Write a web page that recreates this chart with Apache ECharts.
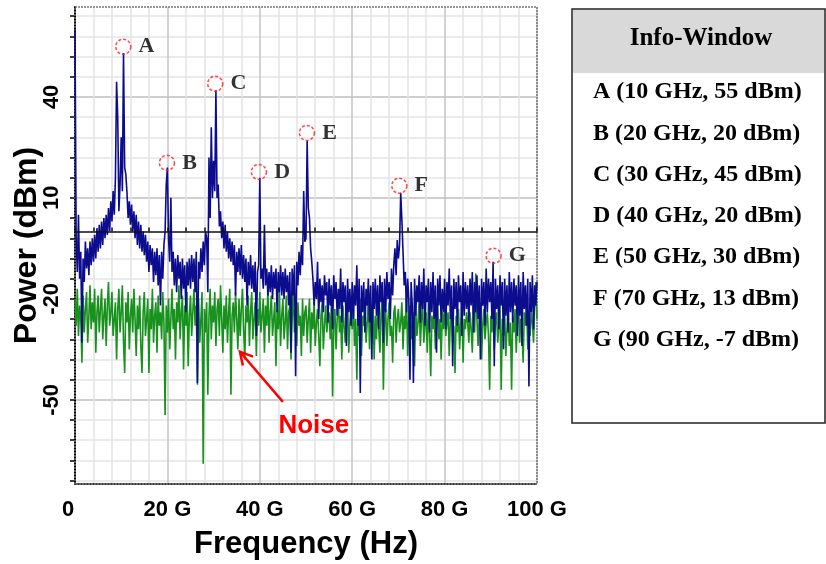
<!DOCTYPE html>
<html>
<head>
<meta charset="utf-8">
<script src="https://cdn.jsdelivr.net/npm/echarts@6/dist/echarts.min.js"></script>
<style>
html, body { margin: 0; padding: 0; background: #fff; }
#chart { width: 826px; height: 564px; }
</style>
</head>
<body>
<div id="chart"></div>
<script>
// spectrum samples, one every 0.25 GHz from 0 to 100 GHz (dBm)
const freqStep = 0.25;
const signal = [
  60, -2, -12, 5, -14, -6, -33, -8, -15, -3, -11, -5, -13, -3, -10, -2, -9, -1, -8, 1,
  -6, 2, -5, 3, -4, 4, -2, 5, -1, 7, 0, 9, 3, 12, 5, 16, 44.5, 34, 6, 14,
  28, 12, 53, 19, 17, 11.5, 4, 9, 2, 8, 0, 6, -2, 5, -4, 3, -5, 2, -6, 0,
  -7, -1, -9, -3, -12, -4, -10, -5, -15, -6, -13, -5, -16, -7, -22, -6, -14, -4, 0, 14,
  19, -2, -9, 10, -12, -6, -16, -8, -18, -7, -14, -9, -20, -8, -17, -10, -24, -9, -16, -8,
  -17, -7, -15, -8, -18, -6, -45, -9, -14, -5, -12, -3, -10, 0, -2, -18, 22, 4, 31, 10,
  21, 12, 42, 10, 14, 1.5, 6, -2, 3, -5, 2, -6, 0, -8, -2, -9, -3, -10, -4, -19,
  -6, -12, -5, -13, -4, -14, -7, -15, -8, -22, -9, -16, -7, -17, -10, -18, -9, -31, -12, -10,
  16, -14, -11, -17, 2, -16, -11, -19, -12, -18, -10, -20, -12, -17, -11, -24, -12, -18, -10, -19,
  -12, -20, -11, -18, -13, -22, -12, -36, -11, -19, -10, -43, -9, -16, -6, -13, -4, -10, 12, -3,
  -2, 27, 7, 4, -5, -9, -14, -22, -15, -20, -9, -26, -14, -21, -16, -24, -13, -19, -15, -27,
  -14, -22, -16, -29, -13, -20, -15, -25, -17, -23, -11, -27, -15, -21, -16, -34, -14, -24, -17, -28,
  -15, -26, -16, -22, -10, -28, -14, -48, -16, -24, -15, -30, -17, -22, -14, -27, -16, -38, -15, -23,
  -14, -25, -16, -29, -13, -21, -15, -33, -14, -24, -12, -20, -15, -26, -11, -19, -10, -5, -13, -2.5,
  -8, -4, 11.5, 3.5, -6, -16, -12, -24, -14, -20, -44, -15, -22, -45, -14, -25, -16, -21, -13, -27,
  -15, -23, -11, -28, -16, -21, -14, -30, -15, -24, -12, -26, -16, -36, -14, -22, -13, -27, -17, -24,
  -14, -29, -15, -22, -11, -26, -16, -40, -14, -23, -15, -28, -13, -21, -16, -31, -12, -25, -15, -23,
  -16, -27, -14, -22, -12, -30, -15, -24, -13, -26, -16, -38, -14, -22, -15, -28, -11, -24, -14, -21,
  -15, -26, -9, -40, -14, -23, -16, -29, -13, -22, -15, -35, -14, -25, -16, -30, -12, -24, -15, -27,
  -14, -22, -16, -31, -13, -25, -15, -34, -12, -23, -16, -28, -14, -46, -15, -24, -13, -29, -16, -22,
  -15
];
const noise = [
  -20, -28, -17, -31, -22, -26, -39, -19, -30, -23, -18, -33, -25, -16, -29, -21, -27, -17, -36, -24,
  -19, -30, -23, -17, -32, -25, -20, -34, -22, -15, -28, -24, -18, -31, -26, -21, -38, -23, -17, -30,
  -24, -16, -33, -42, -21, -27, -18, -35, -25, -20, -30, -17, -26, -37, -22, -29, -19, -34, -42, -24,
  -18, -31, -26, -20, -42, -23, -29, -17, -33, -25, -21, -36, -19, -28, -24, -32, -18, -27, -54.5, -22,
  -30, -20, -35, -26, -17, -29, -23, -38, -21, -27, -16, -32, -24, -19, -41, -22, -28, -18, -40, -25,
  -19, -31, -24, -17, -28, -22, -45.5, -20, -33, -26, -18, -69, -23, -30, -21, -48.5, -25, -17, -32, -22,
  -27, -18, -34, -23, -20, -31, -16, -26, -36, -22, -29, -19, -33, -24, -17, -48.5, -25, -21, -30, -18,
  -26, -35, -20, -31, -23, -17, -29, -38, -22, -27, -19, -34, -24, -18, -32, -26, -21, -37, -23, -28,
  -18, -30, -25, -20, -36, -22, -28, -17, -33, -24, -19, -31, -26, -21, -40, -23, -29, -18, -34, -25,
  -20, -32, -27, -19, -35, -24, -22, -38, -26, -18, -30, -23, -34, -21, -28, -25, -37, -20, -31, -24,
  -22, -33, -26, -20, -36, -24, -29, -21, -34, -27, -23, -31, -40, -25, -21, -35, -28, -22, -30, -26,
  -24, -32, -21, -49, -27, -23, -35, -26, -20, -30, -25, -38, -22, -28, -33, -24, -19, -36, -27, -23,
  -29, -21, -34, -26, -44, -23, -31, -20, -37, -25, -28, -22, -33, -27, -19, -35, -24, -30, -21, -38,
  -25, -32, -22, -29, -36, -24, -20, -47, -27, -23, -34, -26, -21, -31, -28, -39, -24, -22, -33, -26,
  -23, -30, -27, -21, -35, -25, -29, -18, -37, -26, -22, -32, -28, -24, -40, -23, -31, -27, -20, -34,
  -26, -22, -33, -28, -24, -36, -21, -30, -43, -25, -29, -23, -35, -27, -20, -32, -26, -38, -24, -29,
  -22, -31, -27, -24, -37, -26, -20, -33, -28, -42, -25, -30, -23, -35, -27, -21, -39, -26, -29, -24,
  -27, -33, -24, -29, -36, -22, -30, -12.5, -26, -34, -25, -21, -38, -28, -23, -32, -27, -24, -31, -47,
  -25, -30, -22, -35, -27, -24, -33, -28, -21, -47, -26, -31, -24, -37, -29, -22, -34, -27, -47, -25,
  -30, -23, -36, -27, -21, -33, -26, -29, -39, -24, -28, -22, -35, -26, -31, -24, -27, -33, -22, -15,
  -26
];

// marked peaks
const peakNames = ['A', 'B', 'C', 'D', 'E', 'F', 'G'];
const peakFreq = [10.45, 19.9, 30.35, 39.8, 50.2, 70.2, 90.6];
const peakPower = [54.9, 20.4, 43.9, 17.7, 29.3, 13.6, -7.2];

const infoTitle = 'Info-Window';
const infoLines = [
  'A (10 GHz, 55 dBm)',
  'B (20 GHz, 20 dBm)',
  'C (30 GHz, 45 dBm)',
  'D (40 GHz, 20 dBm)',
  'E (50 GHz, 30 dBm)',
  'F (70 GHz, 13 dBm)',
  'G (90 GHz, -7 dBm)'
];

// axis ticks
const yLabelValues = [40, 10, -20, -50];
const yTickValues = [64, 58, 52, 46, 40, 34, 28, 22, 16, 10, 4, -2, -8, -14, -20, -26, -32, -38, -44, -50, -56, -62, -68, -74];

const sans = 'Arial, "Liberation Sans", sans-serif';
const serif = '"Times New Roman", "Liberation Serif", serif';

const chart = echarts.init(document.getElementById('chart'));

const signalData = signal.map((v, i) => [i * freqStep, v]);
const noiseData = noise.map((v, i) => [i * freqStep, v]);
const peakData = peakFreq.map((f, i) => [f, peakPower[i]]);

const tickFont = { color: '#000', fontFamily: sans, fontWeight: 'bold', fontSize: 22 };

chart.setOption({
  animation: false,
  textStyle: { fontFamily: sans },
  grid: { left: 75, right: 289, top: 7, bottom: 80, containLabel: false, outerBoundsMode: 'none' },
  xAxis: [
    {
      type: 'value', min: 0, max: 100, interval: 20, position: 'bottom',
      axisLine: { onZero: false, lineStyle: { color: '#333', width: 2, type: [1, 1] } },
      axisTick: { show: false },
      minorTick: { show: false, splitNumber: 5 },
      axisLabel: Object.assign({}, tickFont, {
        margin: 15,
        formatter: v => (v === 0 ? '{z|0}' : v + ' G'),
        rich: { z: Object.assign({}, tickFont, { padding: [0, 14, 0, 0] }) }
      }),
      splitLine: { lineStyle: { color: '#c4c4c4', width: 1.5 } },
      minorSplitLine: { show: true, lineStyle: { color: '#e4e4e4', width: 1.5 } },
      name: 'Frequency (Hz)', nameLocation: 'middle', nameGap: 45, nameMoveOverlap: false,
      nameTextStyle: { color: '#000', fontFamily: sans, fontWeight: 'bold', fontSize: 31 }
    },
    {
      type: 'value', min: 0, max: 100, interval: 4, position: 'top', z: 5,
      axisLine: { onZero: true, lineStyle: { color: '#111', width: 1.5 } },
      axisTick: { show: true, length: 4, lineStyle: { color: '#111', width: 1.5 } },
      axisLabel: { show: false },
      splitLine: { show: false }
    }
  ],
  yAxis: [
    {
      type: 'value', min: -75, max: 66.7, position: 'left',
      axisLine: { show: true, onZero: false, lineStyle: { color: '#000', width: 2 } },
      axisTick: { show: true, length: 5, customValues: yTickValues, lineStyle: { color: '#000', width: 1.5 } },
      axisLabel: Object.assign({}, tickFont, { customValues: yLabelValues, rotate: 90, margin: 12 }),
      splitLine: { show: true, lineStyle: { color: '#e4e4e4', width: 1.5 } },
      name: 'Power (dBm)', nameLocation: 'middle', nameGap: 32, nameMoveOverlap: false,
      nameTextStyle: { color: '#000', fontFamily: sans, fontWeight: 'bold', fontSize: 32 }
    },
    {
      type: 'value', min: -75, max: 66.7, position: 'right',
      axisLine: { show: false, onZero: false },
      axisTick: { show: false, customValues: yLabelValues },
      axisLabel: { show: false },
      splitLine: { show: true, lineStyle: { color: '#c4c4c4', width: 1.5 } }
    }
  ],
  series: [
    {
      name: 'Noise', type: 'line', data: noiseData, showSymbol: false, z: 2,
      lineStyle: { color: '#17921c', width: 1.6 }
    },
    {
      name: 'Signal', type: 'line', data: signalData, showSymbol: false, z: 3,
      lineStyle: { color: '#0c0c8f', width: 1.6 }
    },
    {
      name: 'Peaks', type: 'scatter', data: peakData, symbol: 'circle', symbolSize: 15, z: 4,
      itemStyle: { color: 'rgba(255,255,255,0)', borderColor: '#ff1a1a', borderWidth: 1.5, borderType: [3, 2] },
      label: {
        show: true, position: 'right', distance: 7,
        formatter: p => peakNames[p.dataIndex],
        color: '#000', fontFamily: serif, fontWeight: 'bold', fontSize: 22
      }
    }
  ]
});

// annotations: info window, noise arrow, dotted frame
const px = (x, y) => chart.convertToPixel({ xAxisIndex: 0, yAxisIndex: 0 }, [x, y]);
const tip = px(35.7, -35.7);
const tail = px(45, -50.6);
const noisePos = px(51.7, -57.7);
const topLeft = px(0, 66.7);
const bottomRight = px(100, -75);
const dx = tip[0] - tail[0], dy = tip[1] - tail[1];
const len = Math.sqrt(dx * dx + dy * dy);
const ux = dx / len, uy = dy / len;
const headLen = 14, ang = 0.5;
const head1 = [tip[0] - headLen * (ux * Math.cos(ang) - uy * Math.sin(ang)), tip[1] - headLen * (uy * Math.cos(ang) + ux * Math.sin(ang))];
const head2 = [tip[0] - headLen * (ux * Math.cos(ang) + uy * Math.sin(ang)), tip[1] - headLen * (uy * Math.cos(ang) - ux * Math.sin(ang))];

const graphics = [
  {
    type: 'rect', z: 1, silent: true,
    shape: { x: topLeft[0], y: topLeft[1], width: bottomRight[0] - topLeft[0], height: bottomRight[1] - topLeft[1] },
    style: { fill: 'none', stroke: '#777', lineWidth: 1.5, lineDash: [2, 1] }
  },
  { type: 'line', z: 10, shape: { x1: tail[0], y1: tail[1], x2: tip[0], y2: tip[1] }, style: { stroke: '#ff0000', lineWidth: 2.5 } },
  { type: 'polyline', z: 10, shape: { points: [head1, tip, head2] }, style: { stroke: '#ff0000', lineWidth: 2.5, fill: 'none' } },
  {
    type: 'text', z: 10, x: noisePos[0], y: noisePos[1],
    style: { text: 'Noise', fill: '#ff0000', font: 'bold 26px ' + sans, align: 'center', verticalAlign: 'middle' }
  },
  { type: 'rect', shape: { x: 572, y: 9, width: 253, height: 414 }, style: { fill: '#fff', stroke: '#222', lineWidth: 1.5 } },
  { type: 'rect', shape: { x: 573, y: 10, width: 251, height: 63 }, style: { fill: '#d9d9d9' } },
  {
    type: 'text', x: 701, y: 39,
    style: { text: infoTitle, fill: '#000', font: 'bold 25px ' + serif, align: 'center', verticalAlign: 'middle' }
  }
];
infoLines.forEach((t, i) => {
  graphics.push({
    type: 'text', x: 593, y: 92 + i * 41.3,
    style: { text: t, fill: '#000', font: 'bold 24px ' + serif, align: 'left', verticalAlign: 'middle' }
  });
});
chart.setOption({ graphic: graphics });
</script>
</body>
</html>
